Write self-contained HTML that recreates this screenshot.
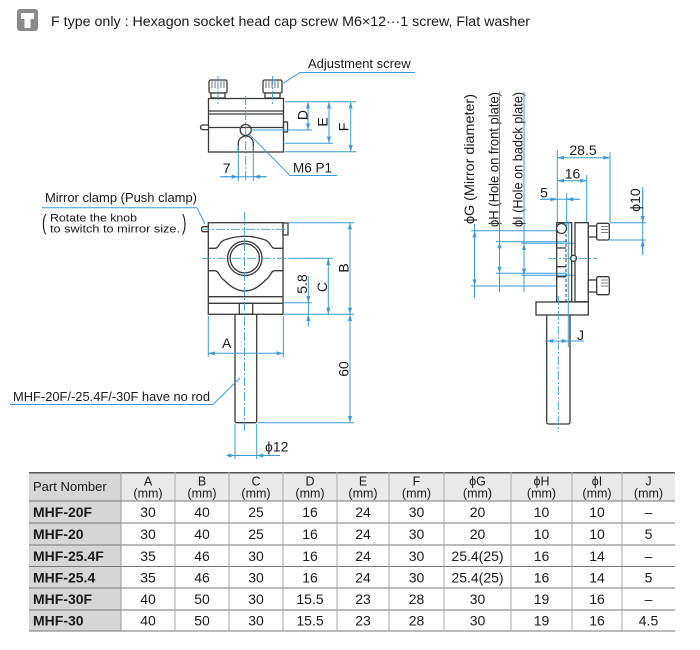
<!DOCTYPE html>
<html><head><meta charset="utf-8">
<style>
html,body{margin:0;padding:0;background:#fff;width:700px;height:650px;overflow:hidden}
svg{display:block}
text{font-family:"Liberation Sans","Noto Sans CJK JP",sans-serif;fill:#1a1a1a}
.b{stroke:#3c9bd6;stroke-width:1;fill:none}
.ba{stroke:#3c9bd6;stroke-width:1;fill:none;marker-start:url(#ar);marker-end:url(#ar)}
.be{stroke:#3c9bd6;stroke-width:1;fill:none;marker-end:url(#ar)}
.cl{stroke:#3c9bd6;stroke-width:0.9;fill:none;stroke-dasharray:9 2 2 2}
.k{stroke:#3a3a3a;stroke-width:1.3;fill:none}
.kf{stroke:#3a3a3a;stroke-width:1.3;fill:#fff}
.kn{stroke:#555;stroke-width:0.8;fill:none}
.hd{stroke:#444;stroke-width:1;fill:none;stroke-dasharray:3 2}
.d{font-size:14px}
.h{font-size:12.5px}
.rl{font-size:14px;font-weight:bold}
</style></head>
<body>
<svg width="700" height="650" viewBox="0 0 700 650" xmlns="http://www.w3.org/2000/svg">
<defs>
<marker id="ar" viewBox="0 0 10 6" refX="10" refY="3" markerWidth="7" markerHeight="4" markerUnits="userSpaceOnUse" orient="auto-start-reverse">
<path d="M0,0 L10,3 L0,6 z" fill="#3c9bd6"/>
</marker>
</defs>

<!-- Header -->
<rect x="17" y="9" width="21" height="22" rx="3" fill="#8a8a8a"/>
<rect x="21" y="13" width="13" height="6" fill="#fff"/>
<rect x="24.5" y="19" width="6" height="9" fill="#fff"/>
<text x="51" y="26" font-size="14" textLength="479" lengthAdjust="spacingAndGlyphs">F type only : Hexagon socket head cap screw M6×12···1 screw, Flat washer</text>

<!-- ============ TOP VIEW ============ -->
<rect x="209" y="80" width="18" height="13" rx="1.5" class="kf"/>
<path d="M212 81v7M215 81v7M218 81v7M221 81v7M224 81v7" class="kn"/>
<rect x="211" y="93" width="14" height="5" class="kf"/>
<rect x="263" y="80" width="19" height="13" rx="1.5" class="kf"/>
<path d="M266 81v7M269 81v7M272 81v7M275 81v7M278 81v7" class="kn"/>
<rect x="265" y="93" width="15" height="5" class="kf"/>
<rect x="208.5" y="98.5" width="75" height="53.5" class="k"/>
<path d="M208.5 111H283.5M208.5 114H283.5M208.5 127.5H283.5" class="k"/>
<path d="M208.5 125H203Q200.5 125 200.5 127.3Q200.5 129.6 203 129.6H208.5" class="k"/>
<rect x="283.5" y="122" width="4" height="10" class="k"/>
<path d="M238.3 152V143.5A7.5 7.5 0 0 1 253.3 143.5V152" class="k"/>
<circle cx="245.7" cy="130" r="5.5" class="k"/>
<path d="M218 76V104M272.5 76V104M245.7 96V181" class="cl"/>
<!-- dims D E F -->
<path d="M285 101.7H356M252 130H312M285 143.3H333M285 151.7H356" class="b"/>
<path d="M308 101.7V130" class="ba"/>
<path d="M329 101.7V143.3" class="ba"/>
<path d="M350.7 101.7V151.7" class="ba"/>
<text transform="translate(307.5,115) rotate(-90)" text-anchor="middle" font-size="14">D</text>
<text transform="translate(327.5,122) rotate(-90)" text-anchor="middle" font-size="14">E</text>
<text transform="translate(348.5,127) rotate(-90)" text-anchor="middle" font-size="14">F</text>
<!-- 7 -->
<path d="M238.3 146V181M253.3 146V181M220 176.7H267" class="b"/>
<path d="M222 176.7H238.3" class="be"/>
<path d="M266 176.7H253.3" class="be"/>
<text x="226.7" y="173" text-anchor="middle" font-size="14">7</text>
<!-- M6 P1 -->
<path d="M249 134L290 175.5H337" class="b"/>
<text x="293" y="172.5" font-size="13.5">M6 P1</text>
<!-- Adjustment screw -->
<path d="M283.3 83.3L300 72.5H415" class="b"/>
<text x="308" y="68" font-size="13">Adjustment screw</text>

<!-- ============ FRONT VIEW ============ -->
<rect x="208.3" y="222.7" width="74.7" height="91.6" class="k"/>
<path d="M208.3 248.3H215C219 248.3 219 241 226 239.5Q244.8 233 263.6 239.5C270.6 241 270.6 248.3 274.6 248.3H283" class="k"/>
<path d="M208.3 270.7H215C219 270.7 219 277 224 280Q244.8 302 265.6 280C270.6 277 270.6 270.7 274.6 270.7H283" class="k"/>
<circle cx="244.8" cy="258.3" r="17.2" class="k"/>
<circle cx="244.8" cy="258.3" r="14.6" class="k"/>
<path d="M208.3 296.7H283M208.3 303.3H283" class="k"/>
<rect x="239.3" y="303.3" width="13.4" height="11" class="k"/>
<path d="M208.3 226.7H203.5Q201.5 226.7 201.5 229.2Q201.5 231.7 203.5 231.7H208.3" class="k"/>
<rect x="283" y="223" width="5" height="12" class="k"/>
<path d="M235 314.3V420.7Q235 422.7 237 422.7H254.7Q256.7 422.7 256.7 420.7V314.3" class="k"/>
<path d="M244.6 212V432M201 229.3H290M202 258.3H290" class="cl"/>
<path d="M290 258.3H333" class="b"/>
<!-- dims -->
<path d="M289 222.7H354M284 314.3H354M258 422.7H354M284 302.7H312" class="b"/>
<path d="M350 222.7V314.3" class="ba"/>
<path d="M350 314.3V422.7" class="ba"/>
<path d="M328.3 258.3V314.3" class="ba"/>
<path d="M308.3 302.7V314.3" class="b"/>
<path d="M308.3 276V302.7" class="be"/>
<path d="M308.3 326.7V314.3" class="be"/>
<text transform="translate(348.5,268) rotate(-90)" text-anchor="middle" font-size="14">B</text>
<text transform="translate(348.5,369) rotate(-90)" text-anchor="middle" font-size="14">60</text>
<text transform="translate(326.8,287) rotate(-90)" text-anchor="middle" font-size="14">C</text>
<text transform="translate(306.8,284) rotate(-90)" text-anchor="middle" font-size="14">5.8</text>
<!-- A -->
<path d="M208.3 316V357M283.3 316V357" class="b"/>
<path d="M208.3 353.3H283.3" class="ba"/>
<text x="226.7" y="348" text-anchor="middle" font-size="14">A</text>
<!-- phi12 -->
<path d="M235 424V459M256.7 424V459M226.7 455.5H280" class="b"/>
<path d="M226.7 455.5H235" class="be"/>
<path d="M280 455.5H256.7" class="be"/>
<text x="265" y="451.5" font-size="14">ϕ12</text>
<!-- Mirror clamp -->
<path d="M42 207.7H197L205 224" class="b"/>
<text x="45" y="202" font-size="13" textLength="152" lengthAdjust="spacingAndGlyphs">Mirror clamp (Push clamp)</text>
<text x="42" y="230" font-size="22" transform="translate(42,230) scale(0.6,1) translate(-42,-230)">(</text>
<text x="50" y="221.5" font-size="11" textLength="87" lengthAdjust="spacingAndGlyphs">Rotate the knob</text>
<text x="50" y="232.5" font-size="11" textLength="130" lengthAdjust="spacingAndGlyphs">to switch to mirror size.</text>
<text x="182" y="230" font-size="22" transform="translate(182,230) scale(0.6,1) translate(-182,-230)">)</text>
<!-- no rod -->
<path d="M10 404.5H213L240 378" class="b"/>
<text x="13" y="401" font-size="13" textLength="197" lengthAdjust="spacingAndGlyphs">MHF-20F/-25.4F/-30F have no rod</text>

<!-- ============ SIDE VIEW ============ -->
<text transform="translate(474,224) rotate(-90)" font-size="14" textLength="130" lengthAdjust="spacingAndGlyphs">ϕG (Mirror diameter)</text>
<text transform="translate(498.5,227) rotate(-90)" font-size="14" textLength="135" lengthAdjust="spacingAndGlyphs">ϕH (Hole on front plate)</text>
<text transform="translate(522.5,227) rotate(-90)" font-size="14" textLength="135" lengthAdjust="spacingAndGlyphs">ϕI (Hole on badck plate)</text>
<path d="M474.5 224V298M499.5 92V292M524 92V292" class="b"/>
<path d="M474.5 230.7V286" class="ba"/>
<path d="M499.5 241.7V273.3" class="ba"/>
<path d="M524 243.3V275.3" class="ba"/>
<path d="M471 230.7H560M471 286H557M496 241.7H567M496 273.3H567M521 243.3H575M521 275.3H575" class="b"/>
<!-- body -->
<rect x="556.7" y="222.7" width="15" height="79" class="k"/>
<rect x="575" y="222.7" width="13.3" height="79" class="k"/>
<path d="M566 234V301" class="hd"/>
<path d="M556.7 248H566M556.7 266.7H566M556.7 276.7H566" class="k"/>
<circle cx="561.5" cy="228.5" r="5" class="kf"/>
<circle cx="573.5" cy="258.3" r="3" class="kf"/>
<rect x="588.3" y="226" width="8.4" height="11" class="kf"/>
<rect x="596.7" y="223.3" width="12.6" height="16.7" rx="1.5" class="kf"/>
<path d="M601 226.5H608M601 229.5H608M601 232.5H608" class="kn"/>
<rect x="588.3" y="280" width="8.4" height="12" class="kf"/>
<rect x="596.7" y="276.7" width="12.6" height="18" rx="1.5" class="kf"/>
<path d="M601 280H608M601 283H608M601 286H608" class="kn"/>
<rect x="536" y="302" width="52.3" height="13" class="kf"/>
<path d="M546.7 315V422Q546.7 424 548.7 424H568Q570 424 570 422V315" class="k"/>
<path d="M558.3 296V432M548 258.3H597" class="cl"/>
<!-- J -->
<path d="M568.3 222V347M545 341H584" class="b"/>
<path d="M546.7 341H568.3" class="ba"/>
<text x="577" y="340" font-size="14">J</text>
<!-- top dims -->
<path d="M557.3 150V222M586.7 175V222M610 152V222M566.7 193V226" class="b"/>
<path d="M557.3 157.7H610" class="ba"/>
<path d="M557.3 180.7H586.7" class="ba"/>
<path d="M540 199.3H580" class="b"/>
<path d="M541 199.3H557.3" class="be"/>
<path d="M579 199.3H566.7" class="be"/>
<text x="583" y="155" text-anchor="middle" font-size="14">28.5</text>
<text x="572.5" y="178.5" text-anchor="middle" font-size="14">16</text>
<text x="544" y="197.5" text-anchor="middle" font-size="14">5</text>
<path d="M610 222.7H646M610 240H646M642.7 187V255" class="b"/>
<path d="M642.7 190V222.7" class="be"/>
<path d="M642.7 254V240" class="be"/>
<text transform="translate(640,200) rotate(-90)" text-anchor="middle" font-size="14">ϕ10</text>

<!-- ============ TABLE ============ -->
<rect x="121" y="472" width="554" height="29" fill="#e9e9e9"/>
<rect x="29" y="472" width="92" height="159" fill="#d6d6d6"/>
<path d="M29 472.7H675" stroke="#555" stroke-width="1.5"/>
<path d="M29 501H675M29 523H675M29 545H675M29 566.5H675M29 588H675M29 610H675M29 631H675" stroke="#777" stroke-width="1"/>
<path d="M121 472V631" stroke="#999" stroke-width="1"/>
<path d="M175 472V631M229 472V631M283 472V631M337 472V631M389 472V631M444 472V631M511 472V631M572 472V631M622 472V631" stroke="#aaa" stroke-width="1"/>
<text x="33" y="491" font-size="13">Part Nomber</text>
<g class="h" text-anchor="middle">
<text x="148" y="485.5">A</text><text x="148" y="497.5">(mm)</text>
<text x="202" y="485.5">B</text><text x="202" y="497.5">(mm)</text>
<text x="256" y="485.5">C</text><text x="256" y="497.5">(mm)</text>
<text x="310" y="485.5">D</text><text x="310" y="497.5">(mm)</text>
<text x="363" y="485.5">E</text><text x="363" y="497.5">(mm)</text>
<text x="416.5" y="485.5">F</text><text x="416.5" y="497.5">(mm)</text>
<text x="477.5" y="485.5">ϕG</text><text x="477.5" y="497.5">(mm)</text>
<text x="541.5" y="485.5">ϕH</text><text x="541.5" y="497.5">(mm)</text>
<text x="597" y="485.5">ϕI</text><text x="597" y="497.5">(mm)</text>
<text x="648.5" y="485.5">J</text><text x="648.5" y="497.5">(mm)</text>
</g>
<g class="rl">
<text x="33" y="517">MHF-20F</text>
<text x="33" y="539">MHF-20</text>
<text x="33" y="561">MHF-25.4F</text>
<text x="33" y="582.5">MHF-25.4</text>
<text x="33" y="604">MHF-30F</text>
<text x="33" y="625.5">MHF-30</text>
</g>
<g class="d" text-anchor="middle">
<text x="148" y="517">30</text><text x="202" y="517">40</text><text x="256" y="517">25</text><text x="310" y="517">16</text><text x="363" y="517">24</text><text x="416.5" y="517">30</text><text x="477.5" y="517">20</text><text x="541.5" y="517">10</text><text x="597" y="517">10</text><text x="648.5" y="517">–</text>
<text x="148" y="539">30</text><text x="202" y="539">40</text><text x="256" y="539">25</text><text x="310" y="539">16</text><text x="363" y="539">24</text><text x="416.5" y="539">30</text><text x="477.5" y="539">20</text><text x="541.5" y="539">10</text><text x="597" y="539">10</text><text x="648.5" y="539">5</text>
<text x="148" y="561">35</text><text x="202" y="561">46</text><text x="256" y="561">30</text><text x="310" y="561">16</text><text x="363" y="561">24</text><text x="416.5" y="561">30</text><text x="477.5" y="561">25.4(25)</text><text x="541.5" y="561">16</text><text x="597" y="561">14</text><text x="648.5" y="561">–</text>
<text x="148" y="582.5">35</text><text x="202" y="582.5">46</text><text x="256" y="582.5">30</text><text x="310" y="582.5">16</text><text x="363" y="582.5">24</text><text x="416.5" y="582.5">30</text><text x="477.5" y="582.5">25.4(25)</text><text x="541.5" y="582.5">16</text><text x="597" y="582.5">14</text><text x="648.5" y="582.5">5</text>
<text x="148" y="604">40</text><text x="202" y="604">50</text><text x="256" y="604">30</text><text x="310" y="604">15.5</text><text x="363" y="604">23</text><text x="416.5" y="604">28</text><text x="477.5" y="604">30</text><text x="541.5" y="604">19</text><text x="597" y="604">16</text><text x="648.5" y="604">–</text>
<text x="148" y="625.5">40</text><text x="202" y="625.5">50</text><text x="256" y="625.5">30</text><text x="310" y="625.5">15.5</text><text x="363" y="625.5">23</text><text x="416.5" y="625.5">28</text><text x="477.5" y="625.5">30</text><text x="541.5" y="625.5">19</text><text x="597" y="625.5">16</text><text x="648.5" y="625.5">4.5</text>
</g>
</svg>
</body></html>
